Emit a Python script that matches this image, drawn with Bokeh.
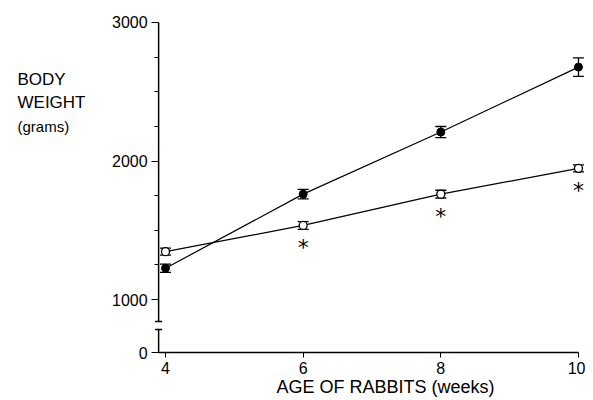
from bokeh.plotting import figure
from bokeh.models import (ColumnDataSource, FixedTicker, Whisker, TeeHead, Label,
                          Range1d)
from bokeh.core.properties import value
from bokeh.embed import file_html
from bokeh.resources import INLINE

# ---- data ----
weeks = [4, 6, 8, 10]
control_mean = [1226, 1761, 2209, 2678]     # filled circles
control_sem = [30, 34, 40, 67]
treated_mean = [1346, 1535, 1761, 1947]     # open circles
treated_sem = [25, 28, 28, 25]
significant = [False, True, True, True]     # asterisk under open circle

x_ticks = [4, 6, 8, 10]
y_major = [1000, 2000, 3000]
y_minor = [1250, 1500, 1750, 2250, 2500, 2750]
# broken axis: value at which "0" is drawn, and the two break ends
y_zero_pos = 618
y_break_low = 784
y_break_high = 841
y_axis_x = 3.9

FONT = "Liberation Sans"

# ---- layout: the frame fills the canvas, axes sit at fixed positions ----
W, H = 585, 400
px_per_week = 68.83
px_per_gram = 0.13855
x4_px, y0_px = 165, 352           # pixel position of week 4 / the "0" line
x_start = 4 - x4_px / px_per_week
x_end = x_start + W / px_per_week
y_start = y_zero_pos - (H - y0_px) / px_per_gram
y_end = y_start + H / px_per_gram

p = figure(width=W, height=H, output_backend="svg", toolbar_location=None,
           x_range=Range1d(x_start, x_end), y_range=Range1d(y_start, y_end),
           min_border=0, min_border_left=0, min_border_right=0,
           min_border_top=0, min_border_bottom=0)
p.outline_line_color = None
p.grid.visible = False
p.background_fill_color = "white"
p.border_fill_color = "white"

# x axis
xa = p.xaxis[0]
xa.fixed_location = y_zero_pos
xa.ticker = FixedTicker(ticks=x_ticks)
xa.bounds = (y_axis_x, 10)
xa.axis_line_color = "black"
xa.axis_line_width = 1.5
xa.major_tick_in = 0
xa.major_tick_out = 5
xa.minor_tick_line_color = None
xa.major_label_standoff = 4
xa.major_label_text_font = FONT
xa.major_label_text_font_size = "16px"
xa.major_label_text_color = "black"

# y axis
ya = p.yaxis[0]
ya.fixed_location = y_axis_x
ya.ticker = FixedTicker(ticks=[y_zero_pos] + y_major, minor_ticks=y_minor)
ya.major_label_overrides = {y_zero_pos: "0"}
ya.axis_line_color = None
ya.major_tick_in = 0
ya.major_tick_out = 7
ya.minor_tick_in = 0
ya.minor_tick_out = 4
ya.major_label_standoff = 4
ya.major_label_text_font = FONT
ya.major_label_text_font_size = "16px"
ya.major_label_text_color = "black"

# broken y-axis line
p.segment(x0=[y_axis_x, y_axis_x], y0=[y_break_high, y_zero_pos],
          x1=[y_axis_x, y_axis_x], y1=[3000, y_break_low],
          line_color="black", line_width=1.5)
p.scatter(x=[y_axis_x, y_axis_x], y=[y_break_high, y_break_low], marker="dash",
          size=7, line_color="black", line_width=1.5)

ctrl = ColumnDataSource(dict(x=weeks, y=control_mean,
                             lo=[m - s for m, s in zip(control_mean, control_sem)],
                             hi=[m + s for m, s in zip(control_mean, control_sem)]))
trt = ColumnDataSource(dict(x=weeks, y=treated_mean,
                            lo=[m - s for m, s in zip(treated_mean, treated_sem)],
                            hi=[m + s for m, s in zip(treated_mean, treated_sem)]))

p.line("x", "y", source=ctrl, line_color="black", line_width=1.2)
p.line("x", "y", source=trt, line_color="black", line_width=1.2)

for src in (ctrl, trt):
    w = Whisker(base="x", lower="lo", upper="hi", source=src,
                line_color="black", line_width=1.3,
                upper_head=TeeHead(size=11, line_color="black", line_width=1.3),
                lower_head=TeeHead(size=11, line_color="black", line_width=1.3))
    p.add_layout(w)

p.scatter("x", "y", source=ctrl, size=8, fill_color="black", line_color="black")
p.scatter("x", "y", source=trt, size=8, fill_color="white", line_color="black",
          line_width=1.3)

sig_x = [x for x, s in zip(weeks, significant) if s]
sig_y = [y for y, s in zip(treated_mean, significant) if s]
p.text(x=sig_x, y=sig_y, text=["*"] * len(sig_x), text_font=value("DejaVu Sans"),
       text_font_size="22px", text_align="center", text_baseline="middle",
       y_offset=22, text_color="black")

# axis titles (screen units measured from the frame's bottom-left corner)
p.add_layout(Label(x=385, y=H - 386, x_units="screen", y_units="screen",
                   text="AGE OF RABBITS (weeks)", text_font=FONT,
                   text_font_size="18px", text_align="center",
                   text_baseline="middle", text_color="black"))
p.add_layout(Label(x=17, y=H - 79, x_units="screen", y_units="screen",
                   text="BODY", text_font=FONT, text_font_size="17px",
                   text_align="left", text_baseline="alphabetic", text_color="black"))
p.add_layout(Label(x=17, y=H - 102, x_units="screen", y_units="screen",
                   text="WEIGHT", text_font=FONT, text_font_size="17px",
                   text_align="left", text_baseline="alphabetic", text_color="black"))
p.add_layout(Label(x=17, y=H - 126, x_units="screen", y_units="screen",
                   text="(grams)", text_font=FONT, text_font_size="15px",
                   text_align="left", text_baseline="alphabetic", text_color="black"))

open("out.html", "w").write(file_html(p, INLINE))
